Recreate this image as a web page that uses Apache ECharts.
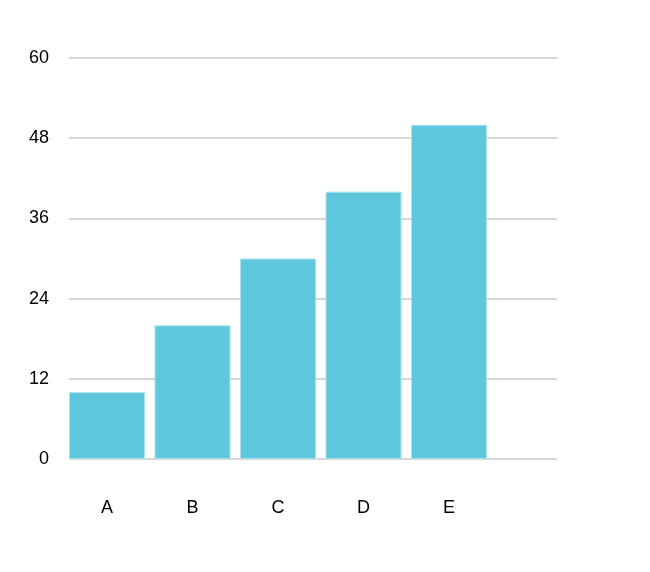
<!DOCTYPE html>
<html>
<head>
<meta charset="utf-8">
<script src="https://cdn.jsdelivr.net/npm/echarts@6/dist/echarts.min.js"></script>
<style>
html,body{margin:0;padding:0;background:#fff;}
#chart{width:650px;height:572px;}
</style>
</head>
<body>
<div id="chart"></div>
<script>
var categories = ['A', 'B', 'C', 'D', 'E'];
var values = [10, 20, 30, 40, 50];
var yMin = 0, yMax = 60, yStep = 12;

var chart = echarts.init(document.getElementById('chart'), null, {renderer: 'canvas'});
var font = '"Liberation Sans", Arial, Helvetica, sans-serif';
chart.setOption({
  animation: false,
  backgroundColor: '#ffffff',
  grid: [
    {left: 69, right: 93, top: 58, bottom: 113, containLabel: false},
    {left: 64.25, width: 427.5, top: 58, bottom: 113, containLabel: false}
  ],
  xAxis: [
    {gridIndex: 0, type: 'value', min: 0, max: 1, show: false},
    {gridIndex: 1, type: 'category', data: categories, boundaryGap: true,
     axisLine: {show: false}, axisTick: {show: false},
     axisLabel: {margin: 40, color: '#000', fontSize: 18, fontFamily: font}}
  ],
  yAxis: [
    {gridIndex: 0, type: 'value', min: yMin, max: yMax, interval: yStep,
     axisLine: {show: false}, axisTick: {show: false},
     splitLine: {show: true, lineStyle: {color: '#c8c8c8', width: 1.5}},
     axisLabel: {margin: 20, color: '#000', fontSize: 18, fontFamily: font}},
    {gridIndex: 1, type: 'value', min: yMin, max: yMax, interval: yStep, show: false}
  ],
  series: [{
    type: 'bar',
    xAxisIndex: 1,
    yAxisIndex: 1,
    data: values,
    barWidth: 76,
    itemStyle: {color: '#5fc7dd', borderColor: '#a9e1ed', borderWidth: 1}
  }]
});
</script>
</body>
</html>
